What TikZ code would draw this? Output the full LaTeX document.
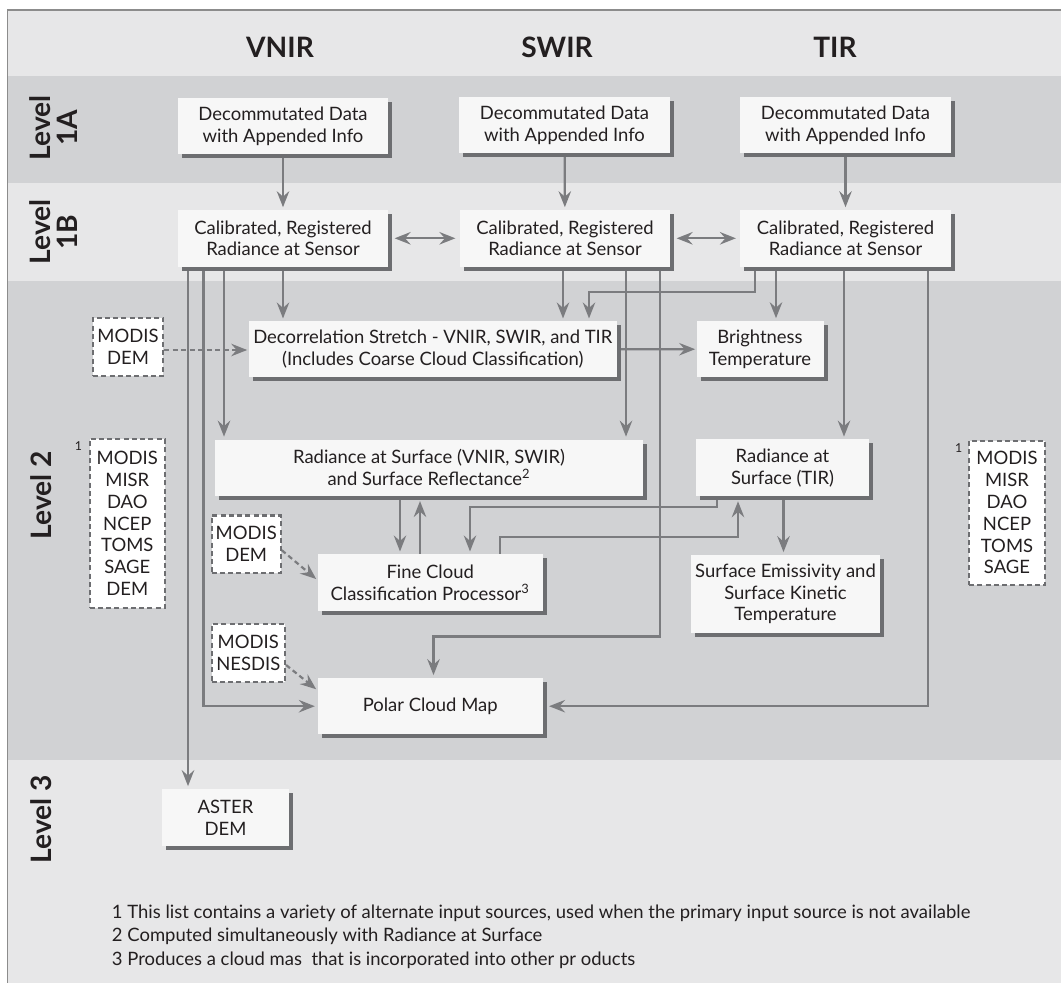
\documentclass[tikz,border=0pt]{standalone}
\usepackage{fontspec}
\setmainfont{Lato}
\usetikzlibrary{arrows.meta,shadows,calc}
\definecolor{bandlight}{HTML}{E7E7E8}
\definecolor{banddark}{HTML}{D1D2D4}
\definecolor{boxfill}{HTML}{F7F7F7}
\definecolor{shade}{HTML}{6D6E71}
\definecolor{linegray}{HTML}{7B7C7F}
\definecolor{ink}{HTML}{231F20}
\definecolor{framegray}{HTML}{8C8C8C}
\pgfdeclarelayer{bands}
\pgfdeclarelayer{wires}
\pgfsetlayers{bands,wires,main}
\begin{document}
\begin{tikzpicture}[x=0.2mm,y=-0.2mm,
  txt/.style={font=\fontsize{10.5}{12.4}\selectfont, text=ink},
  proc/.style={txt, rectangle, fill=boxfill, inner sep=0pt, align=center,
    general shadow={fill=shade, shadow xshift=0.8mm, shadow yshift=-0.8mm}},
  src/.style={txt, rectangle, fill=white, draw=shade, line width=0.42mm,
    dash pattern=on 1mm off 0.65mm, inner sep=0pt, align=center},
  hdr/.style={font=\fontsize{16}{19}\selectfont\bfseries, text=ink},
  lvl/.style={font=\fontsize{16}{15.4}\selectfont\bfseries, text=ink, rotate=90, align=center},
  flow/.style={draw=linegray, line width=0.44mm, -{Stealth[length=3.2mm,width=2.5mm,inset=1.1mm]}, shorten >=0.5mm},
  flowboth/.style={draw=linegray, line width=0.44mm, {Stealth[length=3.2mm,width=2.5mm,inset=1.1mm]}-{Stealth[length=3.2mm,width=2.5mm,inset=1.1mm]}, shorten >=0.8mm, shorten <=1.2mm},
  hint/.style={draw=linegray, line width=0.44mm, dash pattern=on 1mm off 0.7mm, -{Stealth[length=3.2mm,width=2.5mm,inset=1.1mm]}, shorten >=0.3mm},
  note/.style={txt, anchor=base west, inner sep=0pt},
  supmark/.style={font=\fontsize{7}{8}\selectfont, text=ink, inner sep=0pt}
]
\useasboundingbox (0,0) rectangle (1061,983);

% horizontal level bands and frame
\begin{pgfonlayer}{bands}
  \fill[white] (0,0) rectangle (1061,983);
  \fill[bandlight] (7.5,10) rectangle (1061,76);
  \fill[banddark] (7.5,76) rectangle (1061,183);
  \fill[bandlight] (7.5,183) rectangle (1061,281);
  \fill[banddark] (7.5,281) rectangle (1061,760);
  \fill[bandlight] (7.5,760) rectangle (1061,983);
  \draw[framegray, line width=0.3mm] (7.5,983) -- (7.5,10) -- (1061,10);
\end{pgfonlayer}

% column headings
\node[hdr] (hV) at (280,47) {VNIR};
\node[hdr] (hS) at (557,47) {SWIR};
\node[hdr] (hT) at (835,47) {TIR};

% level labels
\node[lvl] (l1a) at (54,128) {Level\\1A};
\node[lvl] (l1b) at (54,232) {Level\\1B};
\node[lvl] (l2) at (41,495) {Level 2};
\node[lvl] (l3) at (41,819) {Level 3};

% Level 1A
\node[proc, minimum width=42.1mm, minimum height=11.2mm] (A1) at (283,126) {Decommutated Data\\with Appended Info};
\node[proc, minimum width=42.1mm, minimum height=11.2mm] (A2) at (564.5,125) {Decommutated Data\\with Appended Info};
\node[proc, minimum width=42.1mm, minimum height=11.2mm] (A3) at (845.5,125.5) {Decommutated Data\\with Appended Info};

% Level 1B
\node[proc, minimum width=42.1mm, minimum height=11.3mm] (B1) at (283,238.3) {Calibrated, Registered\\Radiance at Sensor};
\node[proc, minimum width=42.1mm, minimum height=11.3mm] (B2) at (565,238.3) {Calibrated, Registered\\Radiance at Sensor};
\node[proc, minimum width=42.1mm, minimum height=11.3mm] (B3) at (845.5,238.3) {Calibrated, Registered\\Radiance at Sensor};

% Level 2
\node[proc, minimum width=73.5mm, minimum height=11.2mm] (DS) at (432.8,349.3) {Decorrelation Stretch - VNIR, SWIR, and TIR\\(Includes Coarse Cloud Classification)};
\node[proc, minimum width=25.4mm, minimum height=11.26mm] (BT) at (760,349.2) {Brightness\\Temperature};
\node[proc, minimum width=85.6mm, minimum height=11.24mm] (RS) at (429,467.6) {Radiance at Surface (VNIR, SWIR)\\and Surface Reflectance\textsuperscript{2}};
\node[proc, minimum width=34.6mm, minimum height=11.3mm] (RT) at (782.5,467.7) {Radiance at\\Surface (TIR)};
\node[proc, minimum width=45mm, minimum height=11.28mm] (FC) at (430.2,582.5) {Fine Cloud\\Classification Processor\textsuperscript{3}};
\node[proc, minimum width=37.8mm, minimum height=15.54mm] (SE) at (785.5,593.8) {Surface Emissivity and\\Surface Kinetic\\Temperature};
\node[proc, minimum width=45mm, minimum height=11.3mm] (PC) at (430.2,706.2) {Polar Cloud Map};

% Level 3
\node[proc, minimum width=25.4mm, minimum height=11.4mm] (AD) at (225.5,817.5) {ASTER\\DEM};

% ancillary input sources
\node[src, minimum width=14mm, minimum height=11.66mm] (M1) at (128,346.8) {MODIS\\DEM};
\node[src, minimum width=15.1mm, minimum height=33.7mm] (M2) at (127.3,523.5) {MODIS\\MISR\\DAO\\NCEP\\TOMS\\SAGE\\DEM};
\node[src, minimum width=15.2mm, minimum height=28.9mm] (M3) at (1007,512.8) {MODIS\\MISR\\DAO\\NCEP\\TOMS\\SAGE};
\node[src, minimum width=13.8mm, minimum height=11.5mm] (M4) at (246.2,544.2) {MODIS\\DEM};
\node[src, minimum width=14.7mm, minimum height=11.5mm] (M5) at (248.3,653) {MODIS\\NESDIS};
\node[supmark] (n1) at (78.4,446) {1};
\node[supmark] (n2) at (958.7,448) {1};

% footnotes
\node[note] (f1) at (111.6,918.3) {1 This list contains a variety of alternate input sources, used when the primary input source is not available};
\node[note] (f2) at (111.6,941.7) {2 Computed simultaneously with Radiance at Surface};
\node[note] (f3) at (111.6,965) {3 Produces a cloud mas\ \ that is incorporated into other pr oducts};

% routing columns and rows
\coordinate (k188) at (188,0);
\coordinate (k203) at (203.5,0);
\coordinate (k224) at (224,0);
\coordinate (k400) at (400,0);
\coordinate (k420) at (420,0);
\coordinate (k433) at (433.5,0);
\coordinate (k470) at (470,0);
\coordinate (k500) at (500,0);
\coordinate (k563) at (563,0);
\coordinate (k589) at (589,0);
\coordinate (k626) at (626,0);
\coordinate (k660) at (660,0);
\coordinate (k717) at (717,0);
\coordinate (k738) at (738,0);
\coordinate (k755) at (755,0);
\coordinate (k776) at (776,0);
\coordinate (k783) at (783.5,0);
\coordinate (k844) at (844,0);
\coordinate (k928) at (928,0);
\coordinate (r292) at (0,292);
\coordinate (r350) at (0,350);
\coordinate (r507) at (0,507);
\coordinate (r537) at (0,537);
\coordinate (r636) at (0,636.5);

\begin{pgfonlayer}{wires}
  \draw[flow] (A1) -- (B1);
  \draw[flow] (A2) -- (B2);
  \draw[flow] (A3) -- (B3);
  \draw[flowboth] (B1.east) -- (B2.west);
  \draw[flowboth] (B2.east) -- (B3.west);
  % from VNIR
  \draw[flow] (B1.south) -- (B1.south |- DS.north);
  \draw[flow] (B1.south -| k224) -- (k224 |- RS.north);
  \draw[flow] (B1.south -| k203) |- (PC.west);
  \draw[flow] (B1.south -| k188) -- (k188 |- AD.north);
  % from SWIR
  \draw[flow] (B2.south -| k563) -- (k563 |- DS.north);
  \draw[flow] (B2.south -| k626) -- (k626 |- RS.north);
  \draw[flow] (B2.south -| k660) |- (r636 -| k433) -- (k433 |- PC.north);
  % from TIR
  \draw[flow] (B3.south -| k755) |- (r292 -| k589) -- (k589 |- DS.north);
  \draw[flow] (B3.south -| k776) -- (k776 |- BT.north);
  \draw[flow] (B3.south -| k844) -- (k844 |- RT.north);
  \draw[flow, shorten >=1.2mm] (B3.south -| k928) |- (PC.east);
  % level 2 internal
  \draw[flow, shorten >=0.2mm] (DS.east) -- (BT.west);
  \draw[flow] (k400 |- RS.south) -- (k400 |- FC.north);
  \draw[flow, shorten >=1mm] (k420 |- FC.north) -- (k420 |- RS.south);
  \draw[flow] (RT.south -| k717) |- (r507 -| k470) -- (k470 |- FC.north);
  \draw[flow, shorten >=1mm] (FC.north -| k500) |- (r537 -| k738) -- (k738 |- RT.south);
  \draw[flow] (RT.south -| k783) -- (k783 |- SE.north);
  % ancillary inputs
  \draw[hint] (M1.east |- r350) -- (DS.west |- r350);
  \draw[hint] ([yshift=-1.2mm]M4.east) -- ([yshift=0.5mm]FC.west);
  \draw[hint] ([yshift=-2.4mm]M5.east) -- ([yshift=3.2mm]PC.west);
\end{pgfonlayer}
\end{tikzpicture}
\end{document}
